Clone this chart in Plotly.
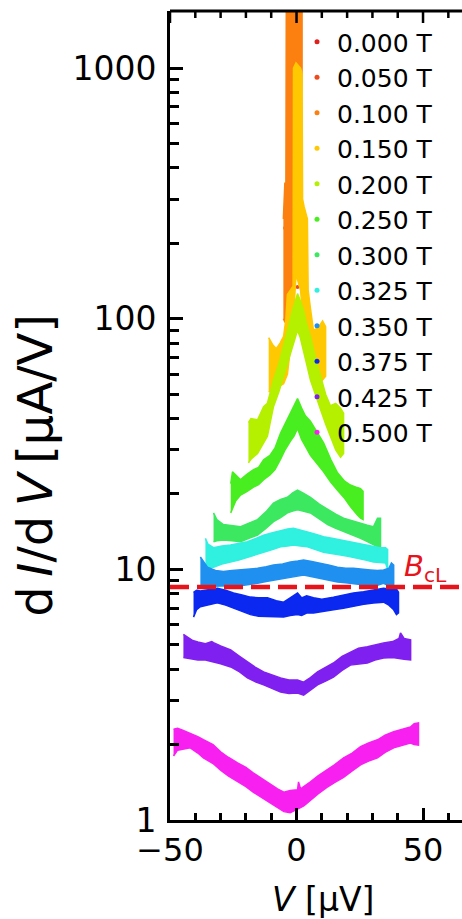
import math
import plotly.graph_objects as go

# Field labels and the colour used for each trace
fields = ["0.000 T", "0.050 T", "0.100 T", "0.150 T", "0.200 T", "0.250 T",
          "0.300 T", "0.325 T", "0.350 T", "0.375 T", "0.425 T", "0.500 T"]
colors = ["#e0201c", "#ee4a1c", "#fb8010", "#ffc800", "#b4f000", "#48ee20",
          "#3ce860", "#30f0e0", "#2090f0", "#0a28f0", "#8020f0", "#f820f0"]

# Each measured dI/dV trace is stored as bias V [uV] with the lower and upper
# edge of its noise band [uA/V].
v_000, lo_000, hi_000 = [], [], []

v_050_pts = [-4.5, -4.2, -3.8, 0.4, 3.2, 3.6]
g_050_pts = [230, 180, 260, 134, 215, 250]

v_100 = [-5.2, -4.6, -4.2, -4.0, -2.5, -1.2, 0.0, 1.5, 2.2]
hi_100 = [250, 350, 330, 3000, 3000, 3000, 3000, 3000, 3000]
lo_100 = [100, 97, 97, 97, 100, 110, 200, 500, 1000]

v_150 = [-11, -9.5, -8, -6.5, -5.1, -4.2, -3.6, -1.35, -1.2, -0.2, 1.6, 2.2,
         2.4, 3.0, 4.3, 4.6, 5.5, 6.7, 8.5, 10.3, 11.5]
hi_150 = [84, 79, 76, 80, 85, 100, 125, 135, 1000, 1050, 1000, 950,
          300, 280, 250, 130, 110, 90, 92, 98, 93]
lo_150 = [51, 52, 53, 54, 55, 58, 60, 95, 100, 150, 130, 110,
          105, 100, 80, 70, 60, 57, 55, 57, 59]

v_200 = [-19, -18, -15.4, -13, -11.5, -9.1, -7, -5.1, -3.3, -1.6, 0.4, 1.5,
         2.8, 4, 5.5, 7.5, 9.5, 11.5, 13.4, 15.5, 17.4, 18.6]
hi_200 = [38.5, 40.0, 39.5, 44.6, 46.0, 57.0, 66.0, 77.5, 92.0, 108, 126, 118,
          108, 95, 85, 70, 58.7, 50.0, 45.0, 46.0, 44.0, 42.0]
lo_200 = [26.6, 27.5, 29.0, 32.0, 34.0, 44.6, 51.0, 58.7, 67.0, 77.5, 90.0, 84.0,
          75.0, 66.0, 57.0, 49.5, 43.4, 38.0, 33.8, 30.0, 28.0, 29.0]

v_250 = [-26, -25.3, -24, -22.1, -19.5, -17, -15, -13, -10.5, -8.5, -6.3, -4.5,
         -2.4, -1, 0.4, 2, 3.5, 5.5, 8, 10.7, 13.5, 16.2, 19, 21.3, 24, 25.3, 26.3]
hi_250 = [22.0, 24.5, 23.8, 22.8, 24.0, 25.0, 25.5, 27.4, 28.5, 30.5, 35.0, 38.0,
          42.0, 45.0, 48.0, 44.0, 41.0, 39.0, 35.5, 32.0, 27.5, 24.3, 22.5, 21.7,
          21.2, 21.0, 20.5]
lo_250 = [16.8, 17.5, 18.8, 19.8, 20.5, 21.3, 21.8, 22.8, 23.8, 25.0, 27.5, 30.0,
          32.5, 34.0, 36.5, 33.0, 31.0, 28.5, 26.5, 24.5, 22.3, 20.7, 19.2, 17.8,
          16.5, 16.0, 15.8]

v_300 = [-32.8, -31.5, -28.9, -25.5, -22.1, -18.8, -15.4, -12, -9.1, -6.3, -3.6,
         -1.5, 0.4, 2.5, 5.5, 9, 12.3, 15.5, 18.6, 22, 25.3, 28, 30.4, 32, 33.2]
hi_300 = [16.8, 15.8, 15.1, 14.9, 14.8, 15.3, 15.8, 17.0, 18.4, 19.0, 19.4,
          20.2, 20.7, 20.2, 19.4, 18.2, 17.3, 16.6, 16.0, 15.6, 15.3, 15.0, 14.8,
          16.0, 16.0]
lo_300 = [12.9, 13.0, 13.1, 13.0, 12.9, 13.3, 13.7, 14.6, 15.5, 16.1, 16.8,
          17.1, 17.3, 17.1, 16.8, 15.9, 15.1, 14.6, 14.1, 13.7, 13.3, 12.9, 12.5,
          12.3, 12.3]

v_325 = [-36, -35, -32.8, -29.5, -26.1, -22.8, -19.4, -16, -13, -9.5, -6.3, -3.5,
         -1.2, 1.5, 4.3, 7.5, 10.7, 14, 17.4, 20.8, 24.1, 27.3, 30.4, 33, 35.2, 36]
hi_325 = [13.3, 12.6, 12.2, 12.4, 12.5, 12.7, 12.9, 13.3, 13.7, 14.0, 14.3, 14.5,
          14.6, 14.4, 14.1, 13.8, 13.5, 13.3, 13.1, 12.9, 12.7, 12.5, 12.3, 12.2,
          12.2, 12.0]
lo_325 = [10.2, 10.2, 10.2, 10.5, 10.7, 10.9, 11.1, 11.4, 11.7, 12.0, 12.3, 12.4,
          12.5, 12.4, 12.3, 12.0, 11.7, 11.55, 11.4, 11.25, 11.1, 10.9, 10.7, 10.65,
          10.6, 10.0]

v_350 = [-38, -37, -35.2, -32, -28.9, -25.5, -22.1, -18.5, -15.4, -12, -9.1, -5.5,
         -2.4, 0.5, 2.8, 6, 9.5, 13, 16.2, 19.5, 22.5, 26, 29.2, 32, 34.4, 36.5,
         37.5, 38.4]
hi_350 = [11.2, 10.8, 10.2, 9.9, 9.8, 9.9, 9.95, 10.0, 10.1, 10.25, 10.4, 10.5,
          10.7, 10.8, 10.9, 10.75, 10.6, 10.4, 10.2, 10.1, 10.1, 10.0, 9.95, 9.9,
          9.95, 10.1, 10.6, 10.4]
lo_350 = [8.55, 8.6, 8.6, 8.6, 8.6, 8.6, 8.6, 8.7, 8.8, 8.95, 9.1, 9.2,
          9.3, 9.4, 9.5, 9.35, 9.2, 9.05, 8.9, 8.85, 8.8, 8.7, 8.6, 8.65,
          8.8, 8.6, 8.2, 8.3]

v_375 = [-40.7, -39.5, -38, -35, -31.3, -28, -24.9, -21.5, -18.2, -15, -11.5, -8,
         -5.1, -2.5, 0.4, 2, 4, 6.7, 10, 14.6, 18.5, 22.5, 26.5, 30.4, 34.4, 36.5,
         38.4, 39.5, 40.3]
hi_375 = [8.10, 8.25, 8.20, 8.30, 8.40, 8.25, 8.05, 7.90, 7.75, 7.70, 7.70, 7.50,
          7.40, 7.70, 8.05, 7.70, 7.85, 7.70, 7.60, 7.75, 7.90, 8.05, 8.15, 8.30,
          8.40, 8.35, 8.30, 8.35, 8.10]
lo_375 = [6.45, 6.90, 7.10, 7.20, 7.35, 7.20, 7.00, 6.80, 6.60, 6.50, 6.46, 6.46,
          6.46, 6.55, 6.60, 6.55, 6.70, 6.70, 6.80, 6.90, 7.00, 7.10, 7.25, 7.35,
          7.40, 7.20, 6.90, 6.60, 6.70]

v_425 = [-44.7, -43, -41, -39, -36, -33.5, -32.8, -30, -26, -22.5, -19.4, -16, -13,
         -9.5, -6.3, -3, 0.4, 2.8, 5.5, 8.3, 11.5, 14.6, 18, 21.3, 24.5, 28, 31,
         34.4, 38, 40.5, 41.1, 42.5, 45.1]
hi_425 = [5.50, 5.35, 5.20, 5.13, 5.05, 5.15, 5.10, 4.95, 4.77, 4.50, 4.27, 4.05,
          3.90, 3.78, 3.69, 3.62, 3.62, 3.55, 3.70, 3.90, 4.05, 4.23, 4.50, 4.68,
          4.85, 4.91, 5.00, 5.09, 5.15, 5.30, 5.58, 5.30, 5.23]
lo_425 = [4.45, 4.40, 4.38, 4.35, 4.35, 4.30, 4.27, 4.20, 4.08, 3.90, 3.69, 3.55,
          3.46, 3.35, 3.24, 3.20, 3.21, 3.15, 3.30, 3.46, 3.58, 3.72, 3.95, 4.15,
          4.20, 4.23, 4.35, 4.43, 4.45, 4.43, 4.40, 4.38, 4.35]

v_500 = [-48.6, -47, -45, -42, -39, -36.8, -33, -30, -27, -23.3, -20, -17, -13.5,
         -10.3, -7.5, -5, -2.5, 0.4, 0.8, 1.6, 3, 5.5, 8.5, 12, 15, 18.6, 22, 25.3,
         28.5, 32, 35, 38.4, 41.5, 45, 46.5, 48.2]
hi_500 = [2.30, 2.32, 2.28, 2.22, 2.15, 2.09, 2.00, 1.87, 1.78, 1.69, 1.62, 1.54,
          1.46, 1.38, 1.33, 1.29, 1.31, 1.32, 1.42, 1.33, 1.36, 1.42, 1.50, 1.58,
          1.66, 1.77, 1.85, 1.96, 2.03, 2.09, 2.18, 2.25, 2.30, 2.35, 2.42, 2.44]
lo_500 = [1.80, 1.90, 1.92, 1.94, 1.85, 1.77, 1.68, 1.58, 1.50, 1.42, 1.36, 1.29,
          1.23, 1.17, 1.12, 1.08, 1.07, 1.10, 1.11, 1.12, 1.14, 1.20, 1.27, 1.35,
          1.41, 1.48, 1.57, 1.66, 1.72, 1.77, 1.86, 1.94, 1.98, 2.03, 2.00, 1.99]

bands = [
    (v_000, lo_000, hi_000),
    None,
    (v_100, lo_100, hi_100),
    (v_150, lo_150, hi_150),
    (v_200, lo_200, hi_200),
    (v_250, lo_250, hi_250),
    (v_300, lo_300, hi_300),
    (v_325, lo_325, hi_325),
    (v_350, lo_350, hi_350),
    (v_375, lo_375, hi_375),
    (v_425, lo_425, hi_425),
    (v_500, lo_500, hi_500),
]

# Critical-field level B_cL drawn as a dashed reference line
bcl_level = [8.5, 8.5]
bcl_v = [-50, 70]

x_range = [-50, 65.4]
y_range_log = [0, 3.228]
x_major = [-50, 0, 50]
x_minor = [-40, -30, -20, -10, 10, 20, 30, 40, 60]
y_major = [1, 10, 100, 1000]
y_major_text = ["1", "10", "100", "1000"]
y_minor = [2, 3, 4, 5, 6, 7, 8, 9, 20, 30, 40, 50, 60, 70, 80, 90,
           200, 300, 400, 500, 600, 700, 800, 900]

FONT = "DejaVu Sans"
RED = "#e8141c"
THIN = "\u2009"
W, H = 462, 919
MARGIN = dict(l=170, r=0, t=11, b=99)
PLOT_H = H - MARGIN["t"] - MARGIN["b"]

fig = go.Figure()

for name, col, band in zip(fields, colors, bands):
    if band is None:
        fig.add_trace(go.Scatter(
            x=v_050_pts, y=g_050_pts, mode="markers",
            marker=dict(color=col, size=4), showlegend=False, hoverinfo="skip"))
        continue
    v, lo, hi = band
    if v:
        fig.add_trace(go.Scatter(
            x=list(v) + list(v)[::-1], y=list(hi) + list(lo)[::-1],
            mode="lines", fill="toself", fillcolor=col,
            line=dict(color=col, width=1.5), showlegend=False, hoverinfo="skip"))

# Legend entries (one small dot per field value)
for name, col in zip(fields, colors):
    fig.add_trace(go.Scatter(
        x=[None], y=[None], mode="markers", name=name,
        marker=dict(color=col, size=5)))

fig.add_trace(go.Scatter(
    x=bcl_v, y=bcl_level, mode="lines", showlegend=False, hoverinfo="skip",
    line=dict(color=RED, width=4.5, dash="19px,8px")))

# Top frame edge with inward ticks at the same positions as the bottom axis
fig.add_shape(type="line", xref="paper", yref="paper", x0=0, x1=1, y0=1, y1=1,
              line=dict(color="black", width=3), layer="above")
for tv, tl in [(t, 12) for t in x_major] + [(t, 7) for t in x_minor]:
    fig.add_shape(type="line", xref="x", yref="paper", x0=tv, x1=tv,
                  y0=1, y1=1 - tl / PLOT_H,
                  line=dict(color="black", width=2.5), layer="above")

fig.add_annotation(
    x=0.795, xref="paper", xanchor="left",
    y=math.log10(bcl_level[0]), yref="y", yanchor="bottom", yshift=-2,
    text="<i>B</i><sub>cL</sub>", showarrow=False,
    font=dict(family=FONT, size=29, color=RED))

fig.add_annotation(
    x=-0.462, xref="paper", xanchor="center",
    y=0.438, yref="paper", yanchor="middle",
    text=f"d{THIN}<i>I</i>/d{THIN}<i>V</i>{THIN}[μA/V]", textangle=-90, showarrow=False,
    font=dict(family=FONT, size=48, color="black"))

fig.add_annotation(
    x=0.525, xref="paper", xanchor="center",
    y=-0.072, yref="paper", yanchor="top",
    text="<i>V</i> [μV]", showarrow=False,
    font=dict(family=FONT, size=33, color="black"))

fig.update_layout(
    width=W, height=H,
    margin=MARGIN,
    paper_bgcolor="white", plot_bgcolor="white",
    font=dict(family=FONT, size=32, color="black"),
    showlegend=True,
    legend=dict(x=0.435, y=0.99, xanchor="left", yanchor="top",
                bgcolor="rgba(0,0,0,0)", font=dict(family=FONT, size=25, color="black"),
                itemsizing="trace"),
)
fig.update_xaxes(
    range=x_range, tickvals=x_major, ticks="inside", ticklen=12, tickwidth=2.5,
    tickcolor="black", showline=True, linewidth=3, linecolor="black",
    showgrid=False, zeroline=False, tickfont=dict(size=32),
    minor=dict(tickvals=x_minor, ticks="inside", ticklen=7, tickwidth=2.5,
               tickcolor="black", showgrid=False),
)
fig.update_yaxes(
    type="log", range=y_range_log, tickvals=y_major, ticktext=y_major_text,
    ticks="inside", ticklen=13, tickwidth=2.5, tickcolor="black",
    showline=True, linewidth=3, linecolor="black", mirror=False,
    showgrid=False, zeroline=False, tickfont=dict(size=33), ticklabelstandoff=4,
    minor=dict(tickvals=y_minor, ticks="inside", ticklen=9, tickwidth=2.5,
               tickcolor="black", showgrid=False),
)

fig.write_html("out.html")
